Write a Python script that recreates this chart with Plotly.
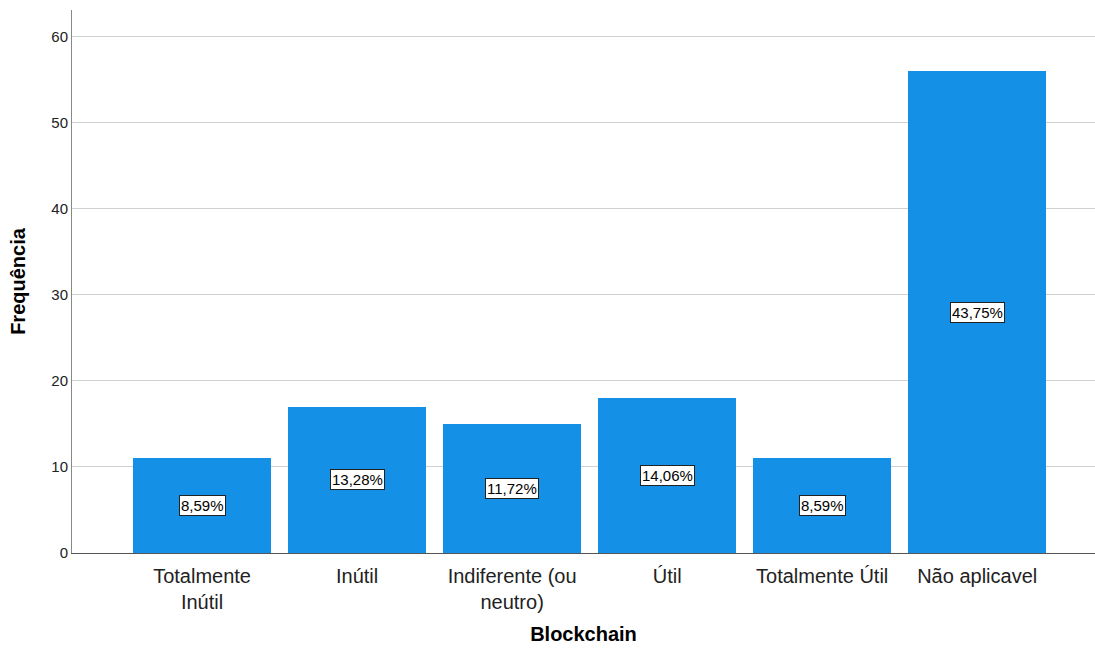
import plotly.graph_objects as go

categories = ["Totalmente<br>Inútil", "Inútil", "Indiferente (ou<br>neutro)", "Útil", "Totalmente Útil", "Não aplicavel"]
frequencies = [11, 17, 15, 18, 11, 56]
percent_labels = ["8,59%", "13,28%", "11,72%", "14,06%", "8,59%", "43,75%"]

font = "Liberation Sans, Arial, sans-serif"

fig = go.Figure()
fig.add_trace(go.Bar(
    x=list(range(len(categories))),
    y=frequencies,
    marker=dict(color="#1490E6", line=dict(width=0)),
    width=0.89,
    hoverinfo="skip",
))

for i, (v, lab) in enumerate(zip(frequencies, percent_labels)):
    fig.add_annotation(
        x=i, y=v / 2, text=lab, showarrow=False,
        font=dict(family=font, size=15, color="black"),
        bgcolor="white", bordercolor="#222222", borderwidth=1, borderpad=1,
    )

fig.update_layout(
    width=1095, height=648,
    margin=dict(l=72, r=0, t=10, b=95),
    plot_bgcolor="white", paper_bgcolor="white",
    showlegend=False,
    font=dict(family=font, color="#222222"),
    bargap=0,
)
fig.update_xaxes(
    tickmode="array",
    tickvals=list(range(len(categories))),
    ticktext=categories,
    range=[-0.839, 5.76],
    showgrid=False,
    showline=True, linecolor="#555555", linewidth=1,
    ticks="outside", ticklen=5, tickcolor="rgba(0,0,0,0)",
    tickfont=dict(family=font, size=20, color="#222222"),
    title=dict(text="<b>Blockchain</b>", font=dict(family=font, size=20, color="black"), standoff=14),
    zeroline=False,
)
fig.update_yaxes(
    range=[0, 63.1],
    tickvals=[0, 10, 20, 30, 40, 50, 60],
    showgrid=True, gridcolor="#d0d0d0", gridwidth=1,
    showline=True, linecolor="#888888", linewidth=1,
    ticks="", ticklen=0, tickfont=dict(family=font, size=15, color="#222222"),
    title=dict(text="<b>Frequência</b>", font=dict(family=font, size=20, color="black"), standoff=20),
    zeroline=False,
)

fig.write_html("out.html")
